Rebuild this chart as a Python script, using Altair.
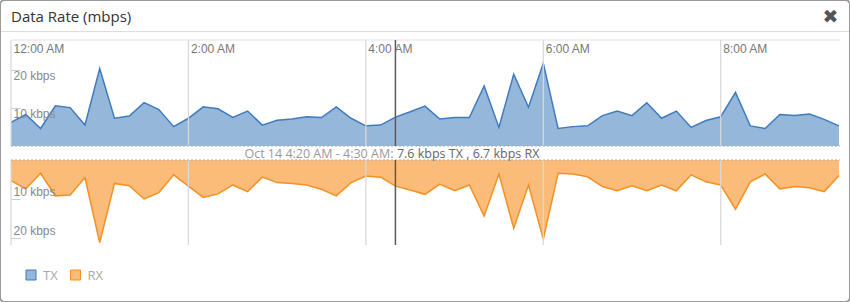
import altair as alt
import pandas as pd

# ---------------- data ----------------
times = pd.date_range("2023-10-14 00:00", periods=57, freq="10min").strftime("%Y-%m-%dT%H:%M:%S").tolist()

tx = [6.2, 8.3, 4.6, 10.6, 10.1, 5.5, 20.4, 7.3, 7.9, 11.4,
      9.6, 5.1, 7.3, 10.3, 9.8, 7.5, 9.2, 5.5, 6.8, 7.1,
      7.7, 7.5, 10.3, 7.3, 5.3, 5.5, 7.6, 9.0, 10.5, 7.1,
      7.5, 7.5, 15.8, 4.9, 18.9, 10.2, 21.8, 4.6, 5.1, 5.3,
      8.0, 9.2, 8.0, 11.4, 7.3, 9.2, 4.9, 6.7, 7.7, 14.1,
      5.3, 4.6, 8.3, 8.0, 8.4, 7.0, 5.3]

rx = [5.3, 7.4, 3.4, 9.2, 9.0, 4.5, 21.2, 6.0, 6.6, 10.0,
      8.4, 3.8, 6.7, 9.6, 8.7, 6.4, 8.1, 4.4, 5.8, 6.0,
      6.4, 7.5, 9.2, 5.8, 4.1, 4.4, 6.7, 7.7, 8.8, 6.2,
      7.9, 6.4, 14.4, 3.6, 17.5, 6.4, 20.3, 3.4, 3.6, 4.3,
      6.8, 7.9, 6.6, 7.9, 6.4, 7.9, 3.8, 5.6, 6.4, 12.6,
      5.6, 3.6, 7.4, 6.8, 7.1, 8.1, 4.0]

tick_hours = [0, 2, 4, 6, 8]
grid_times = ["2023-10-14T%02d:00:00" % h for h in tick_hours]
y_ticks = [10, 20]
series = ["TX", "RX"]
title_text = ["Data Rate (mbps)"]
HOVER_IDX = 26
hover_range = ["Oct 14 4:20 AM - 4:30 AM:"]
hover_values = ["%s kbps TX , %s kbps RX" % (tx[HOVER_IDX], rx[HOVER_IDX])]

df = pd.DataFrame({"t": times, "TX": tx, "RX": rx})
grid_df = pd.DataFrame({"t": grid_times})
hover_df = pd.DataFrame({"t": [times[HOVER_IDX]], "range": hover_range, "values": hover_values})
title_df = pd.DataFrame({"label": title_text})
legend_df = pd.DataFrame({"series": series})

# ---------------- styles ----------------
TX_FILL, TX_LINE = "#95b7da", "#3f7bbd"
RX_FILL, RX_LINE = "#fbbb79", "#f59022"
GRID = "#d9d9d9"
TX_MAX, RX_MAX = 27.9, 21.8

def dt(h, m=0):
    return alt.DateTime(year=2023, month=10, date=14, hours=h, minutes=m)

xscale = alt.Scale(domain=[dt(0), dt(9, 20)], range=[11, 839])
tx_scale = alt.Scale(domain=[0, TX_MAX], range=[146, 40], nice=False)
rx_scale = alt.Scale(domain=[0, RX_MAX], range=[160, 245], nice=False)

time_axis = alt.Axis(orient="top", offset=-40, values=[dt(h) for h in tick_hours],
                     format="%-I:%M %p", labelAlign="left", labelBaseline="top",
                     labelPadding=-3, tickSize=0, ticks=False, domain=False, grid=False,
                     labelFlush=False, labelOverlap=False, labelOffset=2,
                     labelColor="#777", labelFontSize=12, labelFont="Liberation Sans",
                     title=None, zindex=2)

def y_axis(baseline):
    return alt.Axis(orient="left", offset=-20, values=y_ticks,
                    labelExpr="datum.value + ' kbps'", tickSize=9, tickColor="#cccccc",
                    labelPadding=-2, labelAlign="left", labelBaseline=baseline,
                    domain=False, grid=False, labelColor="#888", labelFontSize=12,
                    labelFont="Liberation Sans", title=None, zindex=2)

TX_AXIS = y_axis("top")
RX_AXIS = y_axis("bottom")

def X():
    return alt.X("t:T", scale=xscale, axis=time_axis)

def TXY(field=None, datum=None):
    if field:
        return alt.Y(field, scale=tx_scale, axis=TX_AXIS)
    return alt.YDatum(datum, scale=tx_scale, axis=TX_AXIS)

def RXY(field=None, datum=None):
    if field:
        return alt.Y(field, scale=rx_scale, axis=RX_AXIS)
    return alt.YDatum(datum, scale=rx_scale, axis=RX_AXIS)

# ---------------- TX panel ----------------
tx_area = alt.Chart(df).mark_area(color=TX_FILL).encode(x=X(), y=TXY("TX:Q"))
tx_line = alt.Chart(df).mark_line(color=TX_LINE, strokeWidth=1.5).encode(x=X(), y=TXY("TX:Q"))
tx_grid = alt.Chart(grid_df).mark_rule(color=GRID, strokeWidth=1.3).encode(
    x=X(), y=TXY(datum=0), y2=alt.datum(TX_MAX))
tx_top = alt.Chart(title_df).mark_rule(color="#e2e2e2").encode(
    x=alt.value(11), x2=alt.value(840), y=TXY(datum=TX_MAX))
tx_base = alt.Chart(title_df).mark_rule(color="#aaaaaa", strokeDash=[2, 2]).encode(
    x=alt.value(11), x2=alt.value(840), y=TXY(datum=0))
tx_cross = alt.Chart(hover_df).mark_rule(color="#5a5a5a", strokeWidth=1.5).encode(
    x=X(), y=TXY(datum=0), y2=alt.datum(TX_MAX))
tx_panel = alt.layer(tx_area, tx_line, tx_grid, tx_top, tx_base, tx_cross)

# ---------------- RX panel ----------------
rx_area = alt.Chart(df).mark_area(color=RX_FILL).encode(x=X(), y=RXY("RX:Q"))
rx_line = alt.Chart(df).mark_line(color=RX_LINE, strokeWidth=1.5).encode(x=X(), y=RXY("RX:Q"))
rx_grid = alt.Chart(grid_df).mark_rule(color=GRID, strokeWidth=1.3).encode(
    x=X(), y=RXY(datum=0), y2=alt.datum(RX_MAX))
rx_base = alt.Chart(title_df).mark_rule(color="#aaaaaa", strokeDash=[2, 2]).encode(
    x=alt.value(11), x2=alt.value(840), y=RXY(datum=0))
rx_cross = alt.Chart(hover_df).mark_rule(color="#5a5a5a", strokeWidth=1.5).encode(
    x=X(), y=RXY(datum=0), y2=alt.datum(RX_MAX))
rx_panel = alt.layer(rx_area, rx_line, rx_grid, rx_base, rx_cross)

# ---------------- dialog decorations ----------------
title = alt.Chart(title_df).mark_text(align="left", baseline="middle", font="Open Sans",
                                      fontSize=15, color="#333").encode(
    x=alt.value(11), y=alt.value(17), text="label:N")
close_x = alt.Chart(title_df).mark_text(align="center", baseline="middle", font="DejaVu Sans",
                                        fontSize=19, color="#555", text="\u2716").encode(
    x=alt.value(830.5), y=alt.value(16.5))
sep = alt.Chart(title_df).mark_rule(color="#dddddd").encode(
    x=alt.value(1), x2=alt.value(849), y=alt.value(31.5))

hover_a = alt.Chart(hover_df).mark_text(align="right", baseline="middle", font="Open Sans",
                                        fontSize=12.5, color="#999", dx=-2).encode(
    x=X(), y=alt.value(153.5), text="range:N")
hover_b = alt.Chart(hover_df).mark_text(align="left", baseline="middle", font="Open Sans",
                                        fontSize=12.5, color="#666", dx=1.5).encode(
    x=X(), y=alt.value(153.5), text="values:N")

leg = []
for i, (s, fill, line) in enumerate(zip(series, [TX_FILL, RX_FILL], [TX_LINE, RX_LINE])):
    sub = alt.Chart(legend_df).transform_filter(alt.datum.series == s)
    leg.append(sub.mark_square(size=100, fill=fill, stroke=line, strokeWidth=1, opacity=1).encode(
        x=alt.value(31 + 44.5 * i), y=alt.value(275)))
    leg.append(sub.mark_text(align="left", baseline="middle", font="Open Sans", fontSize=13,
                             color="#aaaaaa").encode(
        x=alt.value(43 + 44.5 * i), y=alt.value(275.5), text="series:N"))

chart = alt.layer(tx_panel, rx_panel, title, close_x, sep, hover_a, hover_b, *leg).resolve_scale(
    y="independent"
).properties(
    width=850, height=302, padding=0, autosize=alt.AutoSizeParams(type="none")
).configure_view(stroke="#9a9a9a", strokeWidth=2, cornerRadius=5)

chart.save("out.html", embed_options={"renderer": "svg", "actions": False})
